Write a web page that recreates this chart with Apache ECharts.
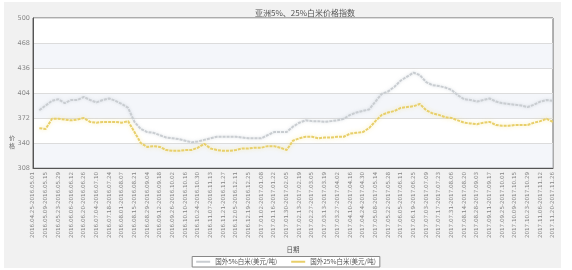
<!DOCTYPE html>
<html><head><meta charset="utf-8">
<script src="https://cdn.jsdelivr.net/npm/echarts@6/dist/echarts.min.js"></script>
<style>html,body{margin:0;padding:0;background:#fff}#c{width:572px;height:270px}</style>
</head><body><div id="c"></div>
<script>
var titleText = '亚洲5%、25%白米价格指数';
var seriesNames = ['国外5%白米(美元/吨)', '国外25%白米(美元/吨)'];
var categories = [
'2016.04.25-2016.05.01','2016.05.02-2016.05.08','2016.05.09-2016.05.15','2016.05.16-2016.05.22','2016.05.23-2016.05.29',
'2016.05.30-2016.06.05','2016.06.06-2016.06.12','2016.06.13-2016.06.19','2016.06.20-2016.06.26','2016.06.27-2016.07.03',
'2016.07.04-2016.07.10','2016.07.11-2016.07.17','2016.07.18-2016.07.24','2016.07.25-2016.07.31','2016.08.01-2016.08.07',
'2016.08.08-2016.08.14','2016.08.15-2016.08.21','2016.08.22-2016.08.28','2016.08.29-2016.09.04','2016.09.05-2016.09.11',
'2016.09.12-2016.09.18','2016.09.19-2016.09.25','2016.09.26-2016.10.02','2016.10.03-2016.10.09','2016.10.10-2016.10.16',
'2016.10.17-2016.10.23','2016.10.24-2016.10.30','2016.10.31-2016.11.06','2016.11.07-2016.11.13','2016.11.14-2016.11.20',
'2016.11.21-2016.11.27','2016.11.28-2016.12.04','2016.12.05-2016.12.11','2016.12.12-2016.12.18','2016.12.19-2016.12.25',
'2016.12.26-2017.01.01','2017.01.02-2017.01.08','2017.01.09-2017.01.15','2017.01.16-2017.01.22','2017.01.23-2017.01.29',
'2017.01.30-2017.02.05','2017.02.06-2017.02.12','2017.02.13-2017.02.19','2017.02.20-2017.02.26','2017.02.27-2017.03.05',
'2017.03.06-2017.03.12','2017.03.13-2017.03.19','2017.03.20-2017.03.26','2017.03.27-2017.04.02','2017.04.03-2017.04.09',
'2017.04.10-2017.04.16','2017.04.17-2017.04.23','2017.04.24-2017.04.30','2017.05.01-2017.05.07','2017.05.08-2017.05.14',
'2017.05.15-2017.05.21','2017.05.22-2017.05.28','2017.05.29-2017.06.04','2017.06.05-2017.06.11','2017.06.12-2017.06.18',
'2017.06.19-2017.06.25','2017.06.26-2017.07.02','2017.07.03-2017.07.09','2017.07.10-2017.07.16','2017.07.17-2017.07.23',
'2017.07.24-2017.07.30','2017.07.31-2017.08.06','2017.08.07-2017.08.13','2017.08.14-2017.08.20','2017.08.21-2017.08.27',
'2017.08.28-2017.09.03','2017.09.04-2017.09.10','2017.09.11-2017.09.17','2017.09.18-2017.09.24','2017.09.25-2017.10.01',
'2017.10.02-2017.10.08','2017.10.09-2017.10.15','2017.10.16-2017.10.22','2017.10.23-2017.10.29','2017.10.30-2017.11.05',
'2017.11.06-2017.11.12','2017.11.13-2017.11.19','2017.11.20-2017.11.26'
];
var rice5 = [null,
382,388,394,396,391,395,395,399,395,392,
395,397,394,390,385,367,358,354,353,350,
347,346,345,343,341,342,344,346,348,348,
348,348,347,346,346,346,350,354,354,354,
361,366,369,368,368,367,368,369,371,376,
379,381,383,393,403,406,412,420,425,430,
427,418,414,413,411,408,401,396,395,393,
395,397,393,391,390,389,388,386,389,393,
395,394];
var rice25 = [null,
359,358,371,371,370,369,370,372,367,366,
367,367,367,366,368,354,340,335,336,335,
331,330,330,331,331,334,339,333,331,330,
330,331,333,333,334,334,336,336,334,331,
343,346,348,348,346,347,347,348,348,352,
353,354,359,368,376,379,381,385,386,387,
390,382,378,376,373,372,369,366,365,364,
366,367,363,362,362,363,363,363,366,368,
371,367];
var yTicks = {min: 308, max: 500, interval: 32};
var xName = '日期';
var yName = '价\n格';

var chart = echarts.init(document.getElementById('c'));
chart.setOption({
  backgroundColor: '#fff',
  animation: false,
  graphic: [
    {type: 'rect', z: -10, shape: {x: 4, y: 2, width: 557, height: 266}, style: {fill: '#f1f1f1'}},
    {type: 'text', left: 9, top: 134, style: {text: yName, fontSize: 6, fill: '#666', fontFamily: 'Noto Sans CJK SC', lineHeight: 8}}
  ],
  title: {text: titleText, left: 300, top: 4, textAlign: 'center',
    textStyle: {fontSize: 8, fontWeight: 'normal', color: '#555', fontFamily: 'Noto Sans CJK SC'}},
  grid: {left: 33, right: 19, top: 18, bottom: 102, show: true, backgroundColor: '#fff', borderColor: '#666', borderWidth: 1},
  legend: {bottom: 3, left: 'center', itemWidth: 14, itemHeight: 2, itemGap: 14,
    borderColor: '#888', borderWidth: 1, padding: [2, 4], backgroundColor: '#fff',
    textStyle: {fontSize: 6.5, color: '#555', fontFamily: 'Noto Sans CJK SC'},
    data: [{name: seriesNames[0], icon: 'rect'}, {name: seriesNames[1], icon: 'rect'}]},
  xAxis: {type: 'category', data: categories, boundaryGap: false,
    name: xName, nameLocation: 'middle', nameGap: 78,
    nameTextStyle: {fontSize: 6.5, color: '#555', fontFamily: 'Noto Sans CJK SC'},
    axisLine: {lineStyle: {color: '#555'}}, axisTick: {show: false},
    axisLabel: {interval: 1, rotate: 90, fontSize: 5.6, color: '#888', margin: 4, fontFamily: 'DejaVu Sans'},
    splitLine: {show: false}},
  yAxis: {type: 'value', min: yTicks.min, max: yTicks.max, interval: yTicks.interval,
    axisLine: {show: true, lineStyle: {color: '#555'}}, axisTick: {show: false},
    axisLabel: {fontSize: 6.5, color: '#888', margin: 3, fontFamily: 'DejaVu Sans'},
    splitLine: {show: true, lineStyle: {color: '#dcdcdc'}},
    splitArea: {show: true, areaColor: {color: ['#ffffff', '#f4f4f4']}}},
  series: [
    {name: seriesNames[0], type: 'line', data: rice5, symbol: 'none', connectNulls: false,
      itemStyle: {color: '#c9cdd1'},
      lineStyle: {color: '#c9cdd1', width: 2, type: [3, 1], shadowColor: 'rgba(180,190,200,0.5)', shadowBlur: 3}},
    {name: seriesNames[1], type: 'line', data: rice25, symbol: 'none',
      itemStyle: {color: '#e8cf6a'},
      lineStyle: {color: '#e8cf6a', width: 2, type: [3, 1], shadowColor: 'rgba(245,225,120,0.6)', shadowBlur: 4}}
  ]
});
</script></body></html>
